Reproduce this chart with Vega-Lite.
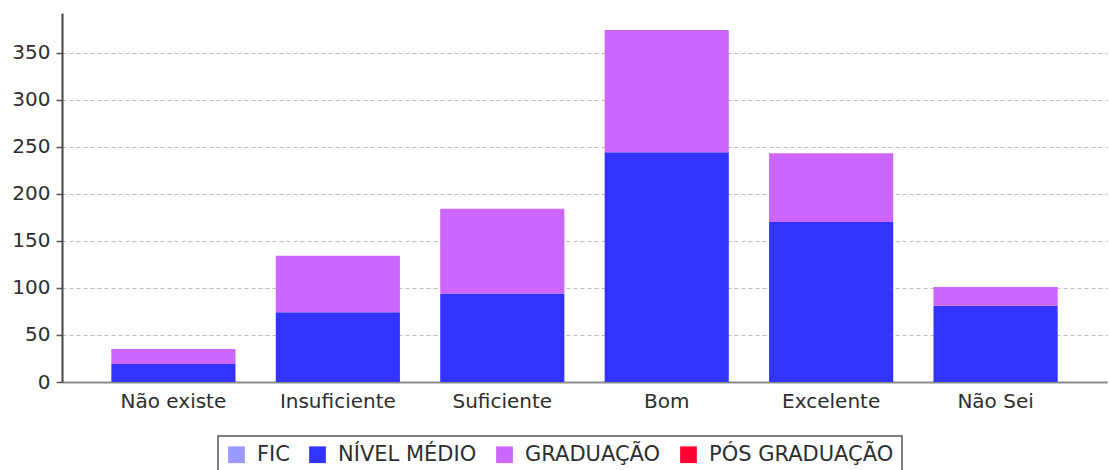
{
  "$schema": "https://vega.github.io/schema/vega-lite/v6.json",
  "width": 1045,
  "height": 369,
  "autosize": {"type": "none"},
  "padding": {"left": 62, "top": 13, "right": 2, "bottom": 88},
  "background": "white",
  "config": {
    "view": {"stroke": null},
    "font": "DejaVu Sans"
  },
  "data": {
    "values": [
      {"categoria": "Não existe", "nivel": "NÍVEL MÉDIO", "valor": 19},
      {"categoria": "Não existe", "nivel": "GRADUAÇÃO", "valor": 16},
      {"categoria": "Insuficiente", "nivel": "NÍVEL MÉDIO", "valor": 74},
      {"categoria": "Insuficiente", "nivel": "GRADUAÇÃO", "valor": 60},
      {"categoria": "Suficiente", "nivel": "NÍVEL MÉDIO", "valor": 94},
      {"categoria": "Suficiente", "nivel": "GRADUAÇÃO", "valor": 90},
      {"categoria": "Bom", "nivel": "NÍVEL MÉDIO", "valor": 244},
      {"categoria": "Bom", "nivel": "GRADUAÇÃO", "valor": 130},
      {"categoria": "Excelente", "nivel": "NÍVEL MÉDIO", "valor": 170},
      {"categoria": "Excelente", "nivel": "GRADUAÇÃO", "valor": 73},
      {"categoria": "Não Sei", "nivel": "NÍVEL MÉDIO", "valor": 81},
      {"categoria": "Não Sei", "nivel": "GRADUAÇÃO", "valor": 20}
    ]
  },
  "mark": {"type": "bar"},
  "encoding": {
    "x": {
      "field": "categoria",
      "type": "nominal",
      "sort": ["Não existe", "Insuficiente", "Suficiente", "Bom", "Excelente", "Não Sei"],
      "scale": {"paddingInner": 0.245, "paddingOuter": 0.3},
      "axis": {
        "title": null,
        "labelAngle": 0,
        "ticks": false,
        "labelFont": "DejaVu Sans",
        "labelFontSize": 20,
        "labelColor": "#2e2e2e",
        "labelPadding": 9,
        "domainColor": "#8a8a8a",
        "domainWidth": 2
      }
    },
    "y": {
      "field": "valor",
      "type": "quantitative",
      "stack": "zero",
      "scale": {"domain": [0, 392], "nice": false},
      "axis": {
        "title": null,
        "values": [0, 50, 100, 150, 200, 250, 300, 350],
        "labelFont": "DejaVu Sans",
        "labelFontSize": 20,
        "labelColor": "#2e2e2e",
        "labelPadding": 6,
        "tickSize": 6,
        "tickColor": "#555555",
        "tickWidth": 1.5,
        "domainColor": "#444444",
        "domainWidth": 2,
        "gridColor": "#bdbdbd",
        "gridDash": [4, 3],
        "gridWidth": 1
      }
    },
    "color": {
      "field": "nivel",
      "type": "nominal",
      "scale": {
        "domain": ["FIC", "NÍVEL MÉDIO", "GRADUAÇÃO", "PÓS GRADUAÇÃO"],
        "range": ["#9999ff", "#3333ff", "#cc66ff", "#ff0033"]
      },
      "legend": {
        "title": null,
        "orient": "none",
        "direction": "horizontal",
        "legendX": 156,
        "legendY": 423,
        "symbolType": "square",
        "symbolSize": 280,
        "symbolStrokeWidth": 0,
        "labelFont": "DejaVu Sans",
        "labelFontSize": 21,
        "labelLimit": 400,
        "labelColor": "#2e2e2e",
        "labelOffset": 10,
        "columnPadding": 17,
        "padding": 8,
        "strokeColor": "#555555",
        "fillColor": "white",
        "encode": {"legend": {"update": {"strokeWidth": {"value": 1.5}}}}
      }
    },
    "order": {"field": "nivel", "sort": "descending"}
  }
}
